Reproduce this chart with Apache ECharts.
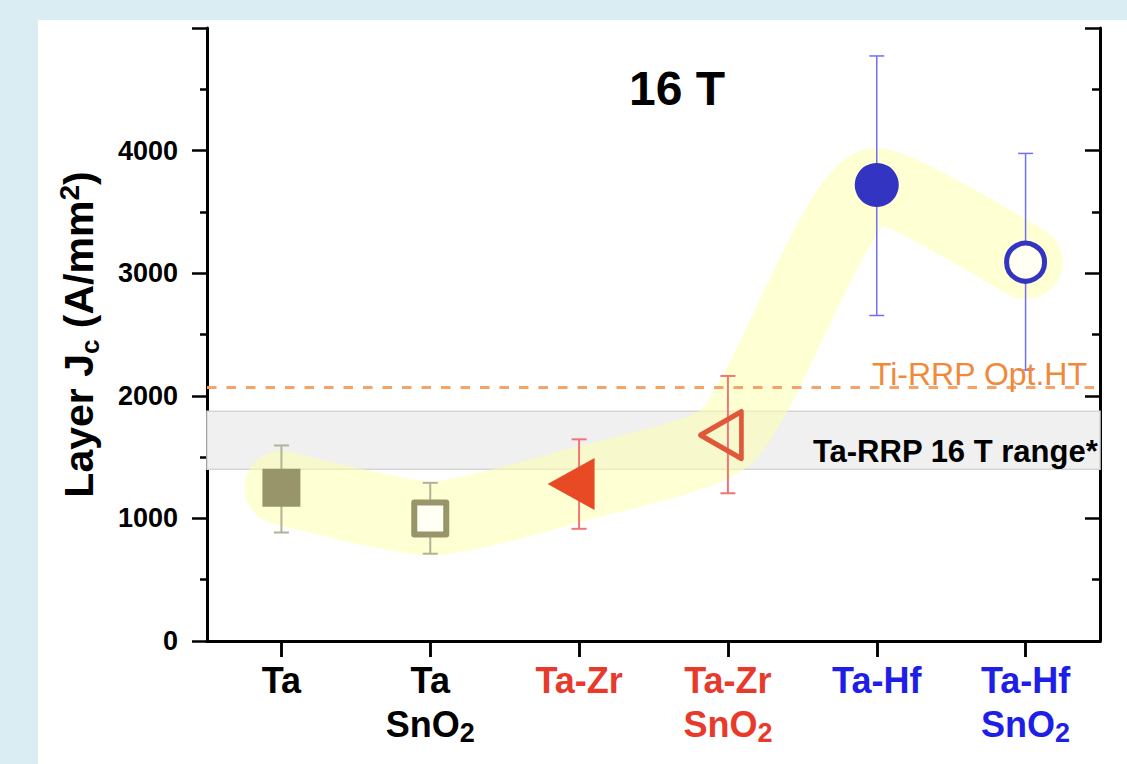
<!DOCTYPE html>
<html><head><meta charset="utf-8">
<script src="https://cdn.jsdelivr.net/npm/echarts@6/dist/echarts.min.js"></script>
<style>
html,body{margin:0;padding:0;width:1127px;height:764px;background:#daedf3;overflow:hidden;}
#chart{position:absolute;left:38px;top:20px;width:1089px;height:744px;background:#fff;}
</style></head><body><div id="chart"></div>
<script>
// ---- data ----
const categories = ['Ta', 'Ta SnO2', 'Ta-Zr', 'Ta-Zr SnO2', 'Ta-Hf', 'Ta-Hf SnO2'];
const jcValues = [1250, 1000, 1280, 1680, 3720, 3090];
const errLow = [885, 712, 915, 1205, 2655, 2210];
const errHigh = [1595, 1290, 1645, 2162, 4772, 3977];
const tiRrpOptHT = 2070;
const taRrpRange = [1400, 1875];
const yMin = 0, yMax = 5000, yInterval = 1000;

// ---- styles ----
const FONT = '"Liberation Sans", Arial, sans-serif';
const labelColorKey = ['k', 'k', 'r', 'r', 'b', 'b'];
const errColors = ['#b3b198', '#b3b198', '#f27474', '#f27474', '#7070f4', '#7070f4'];
const errWidths = [2, 2, 2, 2, 1.5, 1.5];
const markerStyles = [
  { symbol: 'rect', size: 38, rotate: 0, offset: [0, 0], itemStyle: { color: '#979569', borderWidth: 0, opacity: 1 } },
  { symbol: 'rect', size: 32, rotate: 0, offset: [0, 0], itemStyle: { color: '#fffff4', borderColor: '#979569', borderWidth: 6, borderJoin: 'round', opacity: 1 } },
  { symbol: 'triangle', size: [52, 47], rotate: 90, offset: [-8, 0], itemStyle: { color: '#e84a25', borderWidth: 0, opacity: 1 } },
  { symbol: 'triangle', size: [47, 41], rotate: 90, offset: [-7, 0], itemStyle: { color: 'rgba(0,0,0,0)', borderColor: '#e0573a', borderWidth: 5, borderJoin: 'round', opacity: 1 } },
  { symbol: 'circle', size: 44, rotate: 0, offset: [0, 0], itemStyle: { color: '#3434c2', borderWidth: 0, opacity: 1 } },
  { symbol: 'circle', size: 38, rotate: 0, offset: [0, 0], itemStyle: { color: '#fffff4', borderColor: '#3434c2', borderWidth: 5, opacity: 1 } }
];

const chart = echarts.init(document.getElementById('chart'), null, { renderer: 'svg' });

const axisLineStyle = { color: '#000', width: 3 };
const tickLineStyle = { color: '#000', width: 2.5 };

const xLabelRich = {};
[['k', '#000000'], ['r', '#e8392b'], ['b', '#1e1ee6']].forEach(([k, c]) => {
  xLabelRich[k] = { fontFamily: FONT, fontWeight: 'bold', fontSize: 36, lineHeight: 44, color: c };
  xLabelRich[k + 's'] = { fontFamily: FONT, fontWeight: 'bold', fontSize: 27, lineHeight: 18, verticalAlign: 'bottom', color: c };
});

const option = {
  animation: false,
  backgroundColor: 'transparent',
  title: {
    text: '16 T', left: 591, top: 44, padding: 0,
    textStyle: { fontFamily: FONT, fontWeight: 'bold', fontSize: 48, color: '#000' }
  },
  grid: { left: 169, top: 8, right: 27, bottom: 123, containLabel: false, outerBoundsMode: 'none' },
  xAxis: [
    {
      type: 'category', data: categories, position: 'bottom', boundaryGap: true,
      axisLine: { show: true, lineStyle: axisLineStyle },
      axisTick: { show: true, alignWithLabel: true, inside: false, length: 16, lineStyle: tickLineStyle },
      axisLabel: {
        show: true, interval: 0, margin: 17, hideOverlap: false,
        formatter: (value, idx) => {
          const key = labelColorKey[idx];
          return value.split(' ').map(line => {
            if (/O2$/.test(line)) return '{' + key + '|' + line.slice(0, -1) + '}{' + key + 's|2}';
            return '{' + key + '|' + line + '}';
          }).join('\n');
        },
        rich: xLabelRich
      },
      splitLine: { show: false }
    },
    {
      type: 'category', data: categories, position: 'top', boundaryGap: true,
      axisLine: { show: true, lineStyle: axisLineStyle },
      axisTick: { show: true, alignWithLabel: true, inside: true, length: 16, lineStyle: tickLineStyle },
      axisLabel: { show: false },
      splitLine: { show: false }
    }
  ],
  yAxis: [
    {
      type: 'value', position: 'left', min: yMin, max: yMax, interval: yInterval,
      name: '{m|Layer J}{s|c}{m| (A/mm}{p|2}{m|)}',
      nameLocation: 'middle', nameRotate: 90, nameGap: 104,
      nameTextStyle: {
        rich: {
          m: { fontFamily: FONT, fontWeight: 'bold', fontSize: 41, lineHeight: 48, color: '#000' },
          s: { fontFamily: FONT, fontWeight: 'bold', fontSize: 26, lineHeight: 24, verticalAlign: 'bottom', color: '#000' },
          p: { fontFamily: FONT, fontWeight: 'bold', fontSize: 28, lineHeight: 25, verticalAlign: 'top', color: '#000' }
        }
      },
      axisLine: { show: true, lineStyle: axisLineStyle },
      axisTick: { show: true, inside: false, length: 15, lineStyle: tickLineStyle },
      minorTick: { show: true, splitNumber: 2, length: 7, lineStyle: tickLineStyle },
      axisLabel: {
        show: true, margin: 29, showMaxLabel: false,
        formatter: v => String(v),
        fontFamily: FONT, fontWeight: 'bold', fontSize: 27, color: '#000'
      },
      splitLine: { show: false }, minorSplitLine: { show: false }
    },
    {
      type: 'value', position: 'right', min: yMin, max: yMax, interval: yInterval,
      axisLine: { show: true, lineStyle: axisLineStyle },
      axisTick: { show: true, inside: true, length: 15, lineStyle: tickLineStyle },
      minorTick: { show: true, splitNumber: 2, length: 8, lineStyle: tickLineStyle },
      axisLabel: { show: false },
      splitLine: { show: false }, minorSplitLine: { show: false }
    }
  ],
  series: [
    {
      name: 'Ta-RRP range', type: 'line', data: [], z: 1, silent: true,
      markArea: {
        silent: true,
        itemStyle: { color: '#f0f0f0', borderColor: '#d6d6d6', borderWidth: 1.5 },
        label: {
          show: true, position: 'insideBottomRight', distance: 3,
          formatter: 'Ta-RRP 16 T range*',
          fontFamily: FONT, fontWeight: 'bold', fontSize: 31, color: '#000'
        },
        data: [[{ yAxis: taRrpRange[0] }, { yAxis: taRrpRange[1] }]]
      }
    },
    {
      name: 'trend', type: 'line', data: jcValues, z: 2, silent: true,
      smooth: 0.2, symbol: 'none',
      lineStyle: { width: 74, color: 'rgba(255,255,170,0.5)', cap: 'round', join: 'round' }
    },
    {
      name: 'error', type: 'custom', z: 3, silent: true,
      data: categories.map((c, i) => [i, errLow[i], errHigh[i]]),
      encode: { x: 0, y: [1, 2] },
      renderItem: (params, api) => {
        const i = api.value(0);
        const lo = api.coord([i, api.value(1)]);
        const hi = api.coord([i, api.value(2)]);
        const cap = 7.5;
        const st = { stroke: errColors[i], lineWidth: errWidths[i] };
        return {
          type: 'group', children: [
            { type: 'line', shape: { x1: lo[0], y1: lo[1], x2: hi[0], y2: hi[1] }, style: st },
            { type: 'line', shape: { x1: lo[0] - cap, y1: lo[1], x2: lo[0] + cap, y2: lo[1] }, style: st },
            { type: 'line', shape: { x1: hi[0] - cap, y1: hi[1], x2: hi[0] + cap, y2: hi[1] }, style: st }
          ]
        };
      }
    },
    {
      name: 'Jc', type: 'scatter', z: 4, silent: true,
      itemStyle: { opacity: 1 },
      data: jcValues.map((v, i) => ({
        value: [i, v],
        symbol: markerStyles[i].symbol,
        symbolSize: markerStyles[i].size,
        symbolRotate: markerStyles[i].rotate,
        symbolOffset: markerStyles[i].offset,
        itemStyle: markerStyles[i].itemStyle
      }))
    },
    {
      name: 'Ti-RRP', type: 'line', data: [], z: 6, silent: true,
      markLine: {
        silent: true, symbol: ['none', 'none'],
        lineStyle: { type: [9.5, 10], color: '#f5a469', width: 3 },
        label: {
          show: true, position: 'insideEndTop', distance: [13, -3],
          formatter: 'Ti-RRP Opt.HT',
          fontFamily: FONT, fontSize: 32, color: '#f08a3a'
        },
        data: [{ yAxis: tiRrpOptHT }]
      }
    }
  ]
};
chart.setOption(option);
</script></body></html>
